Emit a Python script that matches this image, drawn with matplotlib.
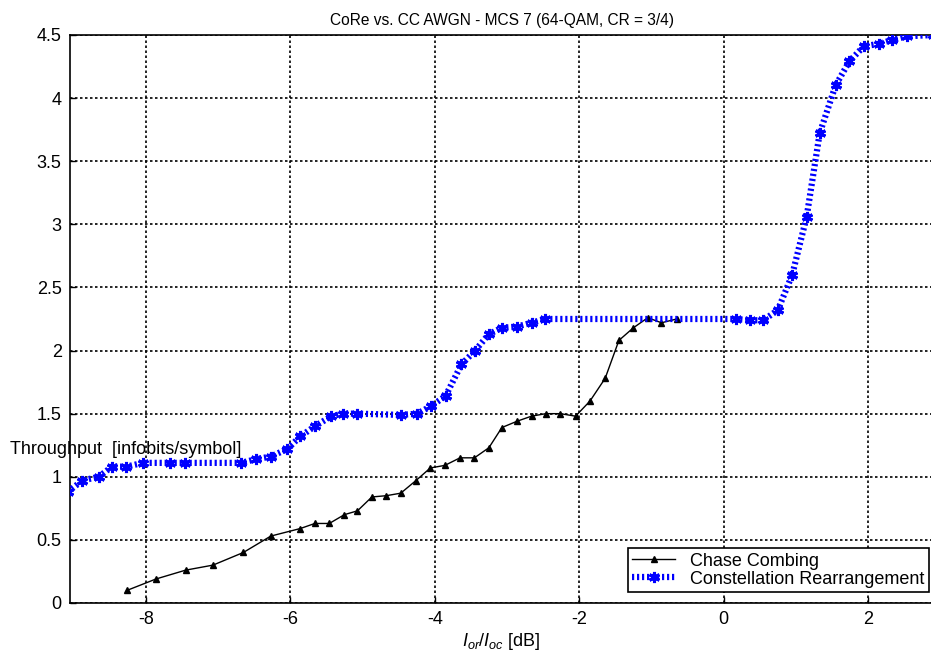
import matplotlib.pyplot as plt

plt.rcParams["font.family"] = ["Liberation Sans", "DejaVu Sans"]
plt.rcParams["mathtext.fontset"] = "custom"
plt.rcParams["mathtext.it"] = "Liberation Sans:italic"
plt.rcParams["mathtext.rm"] = "Liberation Sans"

# Chase Combining (black, triangles)
cc_x = [-8.26, -7.86, -7.45, -7.07, -6.65, -6.27, -5.86, -5.66, -5.46, -5.25,
        -5.07, -4.87, -4.67, -4.47, -4.26, -4.06, -3.86, -3.65, -3.45, -3.25,
        -3.07, -2.86, -2.66, -2.46, -2.26, -2.05, -1.85, -1.64, -1.45, -1.25,
        -1.05, -0.86, -0.65]
cc_y = [0.10, 0.19, 0.26, 0.30, 0.40, 0.53, 0.59, 0.63, 0.63, 0.70,
        0.73, 0.84, 0.85, 0.87, 0.97, 1.07, 1.09, 1.15, 1.15, 1.23,
        1.39, 1.44, 1.48, 1.50, 1.50, 1.48, 1.60, 1.78, 2.08, 2.18,
        2.26, 2.22, 2.25]

# Constellation Rearrangement (blue, asterisks)
cr_x = [-9.08, -8.88, -8.65, -8.47, -8.27, -8.04, -7.66, -7.46, -6.68, -6.47,
        -6.27, -6.04, -5.86, -5.66, -5.43, -5.27, -5.07, -4.47, -4.24, -4.05,
        -3.85, -3.63, -3.44, -3.25, -3.07, -2.86, -2.66, -2.47, 0.17, 0.36,
        0.55, 0.75, 0.95, 1.15, 1.33, 1.55, 1.74, 1.94, 2.15, 2.33,
        2.54, 2.90]
cr_y = [0.88, 0.97, 1.00, 1.08, 1.08, 1.11, 1.11, 1.11, 1.11, 1.14,
        1.16, 1.22, 1.32, 1.40, 1.48, 1.50, 1.50, 1.49, 1.50, 1.56,
        1.64, 1.89, 2.00, 2.13, 2.18, 2.19, 2.22, 2.25, 2.25, 2.24,
        2.24, 2.32, 2.60, 3.06, 3.72, 4.10, 4.29, 4.41, 4.43, 4.46,
        4.49, 4.50]

x_ticks = [-8, -6, -4, -2, 0, 2]
y_ticks = [0, 0.5, 1, 1.5, 2, 2.5, 3, 3.5, 4, 4.5]
y_tick_labels = ["0", "0.5", "1", "1.5", "2", "2.5", "3", "3.5", "4", "4.5"]

fig = plt.figure(figsize=(9.31, 6.64), dpi=100)
ax = fig.add_axes([0.0752, 0.0919, 0.927, 0.8554])

ax.plot(cc_x, cc_y, "-", color="black", lw=1.0, marker="^", ms=4,
        mfc="black", mec="black", label="Chase Combing", zorder=3)
ax.plot(cr_x, cr_y, color="#0000ff", lw=4.5, dashes=(0.35, 0.45),
        dash_capstyle="butt", marker=(6, 2, 0), ms=8, mew=2.2,
        mec="#0000ff", label="Constellation Rearrangement", zorder=4)

ax.set_xlim(-9.05, 2.9)
ax.set_ylim(0, 4.5)
ax.set_xticks(x_ticks)
ax.set_xticklabels([str(t) for t in x_ticks])
ax.set_yticks(y_ticks)
ax.set_yticklabels(y_tick_labels)
ax.tick_params(direction="in", length=4, width=1, labelsize=13, colors="black",
               top=False, right=False, pad=6)
ax.grid(True, color="black", linestyle=(0, (1.5, 1.5)), lw=1.2)
for s in ax.spines.values():
    s.set_color("black")
    s.set_linewidth(1.2)

ax.set_title("CoRe vs. CC AWGN - MCS 7 (64-QAM, CR = 3/4)", fontsize=11.2, pad=7)
ax.set_xlabel(r"$I_{or}/I_{oc}$ [dB]", fontsize=13, labelpad=2)
fig.text(10 / 931, 1 - 449 / 664, "Throughput  [infobits/symbol]", fontsize=13,
         ha="left", va="center")

leg = ax.legend(loc="lower right", bbox_to_anchor=(0.9995, 0.0), fontsize=13,
                fancybox=False, framealpha=1, edgecolor="black",
                borderpad=0.25, labelspacing=0.05, handlelength=2.4,
                borderaxespad=0.6)
leg.set_bbox_to_anchor((0.0, 0.0, 0.9995 + 7 / 863, 1.0), transform=ax.transAxes)
leg.get_frame().set_linewidth(1.2)

fig.savefig("out.png", dpi=100)
